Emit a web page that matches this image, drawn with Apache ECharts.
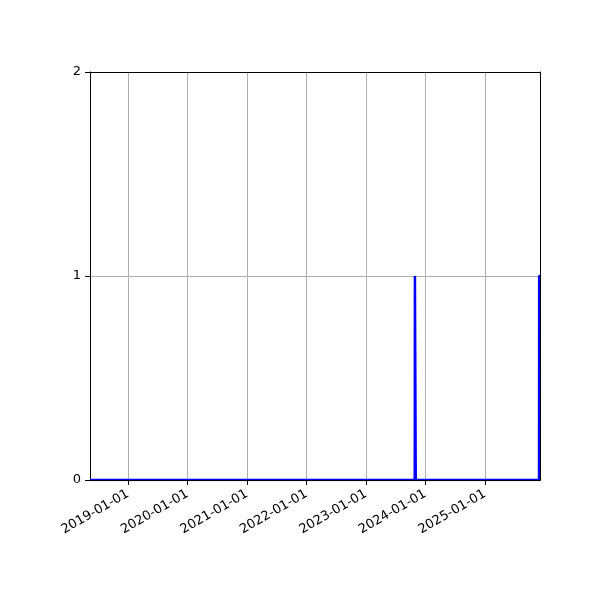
<!DOCTYPE html>
<html>
<head>
<meta charset="utf-8">
<script src="https://cdn.jsdelivr.net/npm/echarts@6/dist/echarts.min.js"></script>
<style>html,body{margin:0;padding:0;background:#fff;}#c{width:600px;height:600px;}</style>
</head>
<body>
<div id="c"></div>
<script>
var dates = ['2018-05-13', '2023-10-28', '2023-10-29', '2023-11-02', '2023-11-03', '2025-11-29', '2025-11-30', '2025-12-05'];
var values = [0, 0, 1, 1, 0, 0, 1, 1];
var xMin = '2018-05-13';
var xMax = '2025-12-05';
var yTicks = [0, 1, 2];

var chart = echarts.init(document.getElementById('c'), null, {renderer: 'canvas'});
var data = dates.map(function (d, i) { return [d, values[i]]; });
var YEAR = 365 * 24 * 3600 * 1000;
var frame = {show: true, onZero: false, lineStyle: {color: '#000', width: 1}};
chart.setOption({
  animation: false,
  backgroundColor: '#fff',
  grid: {left: 90, right: 60, top: 72, bottom: 120, show: false},
  xAxis: [{
    type: 'time',
    min: xMin,
    max: xMax,
    minInterval: YEAR,
    maxInterval: YEAR * 1.01,
    axisLine: frame,
    axisTick: {show: true, length: 5, lineStyle: {color: '#000'}},
    splitLine: {show: true, lineStyle: {color: '#b0b0b0', width: 1}},
    axisLabel: {
      rotate: 30,
      formatter: '{yyyy}-{MM}-{dd}',
      color: '#000',
      fontFamily: 'DejaVu Sans',
      fontSize: 13,
      margin: 13,
      showMinLabel: false,
      showMaxLabel: false,
      hideOverlap: false
    }
  }, {
    type: 'value', position: 'top', min: 0, max: 1,
    axisLine: frame, axisTick: {show: false}, axisLabel: {show: false}, splitLine: {show: false}
  }, {
    type: 'value', position: 'bottom', min: 0, max: 1, z: 5,
    axisLine: frame, axisTick: {show: false}, axisLabel: {show: false}, splitLine: {show: false}
  }],
  yAxis: [{
    type: 'value',
    min: yTicks[0],
    max: yTicks[yTicks.length - 1],
    interval: 1,
    axisLine: frame,
    axisTick: {show: true, length: 5, lineStyle: {color: '#000'}},
    splitLine: {show: true, lineStyle: {color: '#b0b0b0', width: 1}},
    axisLabel: {color: '#000', fontFamily: 'DejaVu Sans', fontSize: 13, margin: 9}
  }, {
    type: 'value', position: 'right', min: 0, max: 1, z: 5,
    axisLine: frame, axisTick: {show: false}, axisLabel: {show: false}, splitLine: {show: false}
  }],
  series: [{
    type: 'line',
    data: data,
    showSymbol: false,
    clip: true,
    z: 1,
    lineStyle: {color: '#0000ff', width: 2.5},
    itemStyle: {color: '#0000ff'}
  }]
});
</script>
</body>
</html>
